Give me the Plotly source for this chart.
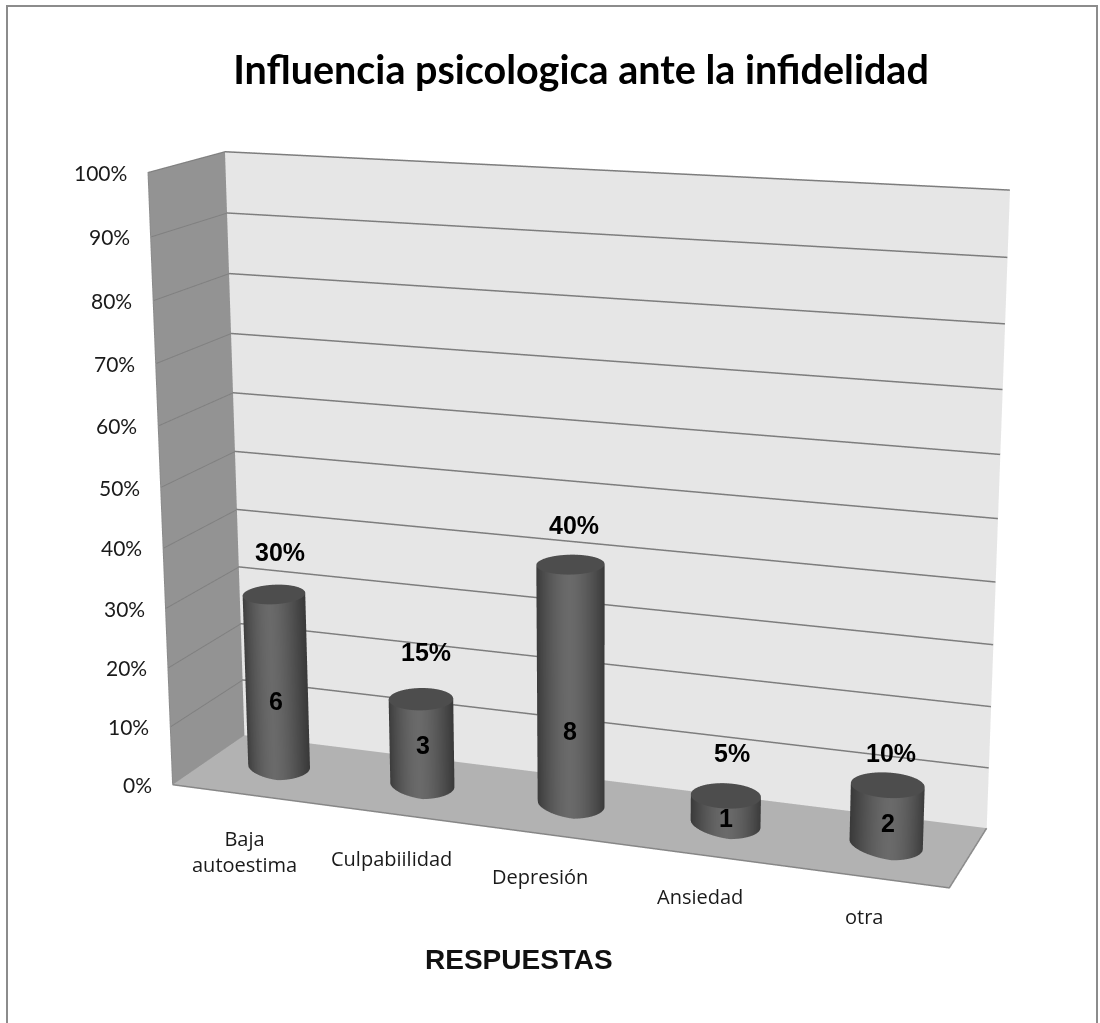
import numpy as np
import plotly.graph_objects as go

title = "Influencia psicologica ante la infidelidad"
axis_title = "RESPUESTAS"
categories = ["Baja<br>autoestima", "Culpabiilidad", "Depresión", "Ansiedad", "otra"]
percent = [30, 15, 40, 5, 10]
counts = [6, 3, 8, 1, 2]
ticks = [0, 10, 20, 30, 40, 50, 60, 70, 80, 90, 100]

W, H = 1100, 1023
EYE = (0.22639, -1.5389, 0.18739)
CENTER = (-0.01364, -0.02878, 0.00058)
UP_X = -0.0499
ASPECT_Y, ASPECT_Z = 0.10006, 0.7943
SHEAR = (0.05717, -0.04331, 0.00065, 0.00084, -0.02892, 0.05497)
RX, RV = 0.044, 0.2
LEVEL_W, LEVEL_U = 17, -0.09
NO_LIGHT = dict(ambient=1, diffuse=0, specular=0, roughness=1, fresnel=0)
CAT_SHIFT = [(1, -57), (1, -45), (-2, -43), (0, -42), (-1, -40)]
PCT_SHIFT = [(6, 42), (5, 47), (4, 40), (6, 43), (3, 32)]
COUNT_SHIFT = [(0, -19), (1, -2), (-1, -44), (0, -7), (1, -7)]


def world(u, v, pct):
    """category fraction, depth fraction, percent -> oblique chart box coordinates"""
    u, v, w = np.asarray(u, float), np.asarray(v, float), np.asarray(pct, float) / 100
    a, b, c, d, e, g = SHEAR
    return u + a * v + b * w, v + c * u + d * w, w + e * u + g * v


def cat_u(i):
    return (i + 0.5) / len(categories)


def quad(corners, color):
    u, v, p = zip(*corners)
    x, y, z = world(u, v, p)
    return go.Mesh3d(x=x, y=y, z=z, i=[0, 0], j=[1, 2], k=[2, 3], color=color,
                     lighting=NO_LIGHT, hoverinfo="skip", showlegend=False)


def line(corners, color, width):
    u, v, p = zip(*corners)
    x, y, z = world(u, v, p)
    return go.Scatter3d(x=x, y=y, z=z, mode="lines", line=dict(color=color, width=width),
                        hoverinfo="skip", showlegend=False)


fig = go.Figure()
fig.add_trace(quad([(0, 1, 0), (1, 1, 0), (1, 1, 100), (0, 1, 100)], "#e6e6e6"))
fig.add_trace(quad([(0, 0, 0), (0, 1, 0), (0, 1, 100), (0, 0, 100)], "#939393"))
fig.add_trace(quad([(0, 0, 0), (1, 0, 0), (1, 1, 0), (0, 1, 0)], "#b2b2b2"))

for t in ticks[1:]:
    fig.add_trace(line([(0, 0.995, t), (1, 0.995, t)], "#7d7d7d", 3))
    fig.add_trace(line([(0.001, 0, t), (0.001, 0.995, t)], "#808080", 2))
fig.add_trace(line([(0, 0, 0), (1, 0, 0), (1, 1, 0)], "#868686", 3))
fig.add_trace(line([(0, 0, 0), (0, 0, 100), (0, 1, 100)], "#8a8a8a", 2))

th = np.linspace(0, 2 * np.pi, 73)[:-1]
n = len(th)
for idx, p in enumerate(percent):
    cu = cat_u(idx)
    du = RX * np.cos(th)
    dv = RV * np.sin(th)
    uu = cu + du + LEVEL_U * dv
    vv = 0.5 + dv
    lift = LEVEL_W * du
    shade = 1 - np.abs(np.cos(th + 0.1)) ** 1.6
    x, y, z = world(np.r_[uu, uu], np.r_[vv, vv], np.r_[lift, p + lift])
    i, j, k = [], [], []
    for s in range(n):
        e = (s + 1) % n
        i += [s, s]; j += [e, e + n]; k += [e + n, s + n]
    fig.add_trace(go.Mesh3d(x=x, y=y, z=z, i=i, j=j, k=k, intensity=np.r_[shade, shade],
                            cmin=0, cmax=1, colorscale=[[0, "#3a3a3a"], [1, "#6a6a6a"]],
                            showscale=False, lighting=NO_LIGHT, hoverinfo="skip"))
    x, y, z = world(np.r_[cu, uu], np.r_[0.5, vv], np.r_[p, p + lift])
    fig.add_trace(go.Mesh3d(x=x, y=y, z=z, i=[0] * n, j=[s + 1 for s in range(n)],
                            k=[(s + 1) % n + 1 for s in range(n)], color="#4d4d4d",
                            lighting=NO_LIGHT, hoverinfo="skip"))

notes = []


def note(u, v, p, text, font, shift=(0, 0), **kw):
    x, y, z = world(u, v, p)
    notes.append(dict(x=float(x), y=float(y), z=float(z), text=text, showarrow=False, font=font,
                      xshift=shift[0], yshift=shift[1], **kw))


tick_font = dict(family="Lato", size=21, color="#1a1a1a")
cat_font = dict(family="Open Sans", size=20, color="#1a1a1a")
bold_font = dict(family="Liberation Sans", size=25, color="#000000", weight="bold")
for t in ticks:
    note(0, 0, t, f"{t}%", tick_font, (-19, 0), xanchor="right")
for idx, c in enumerate(categories):
    note(cat_u(idx), 0, 0, c, cat_font, CAT_SHIFT[idx])
for idx, (p, c) in enumerate(zip(percent, counts)):
    note(cat_u(idx), 0.5, p, f"{p}%", bold_font, PCT_SHIFT[idx])
    note(cat_u(idx), 0.5, p / 2, str(c), bold_font, COUNT_SHIFT[idx])

ax = dict(range=[-1, 2], visible=False, showspikes=False)
fig.update_layout(
    width=W, height=H, margin=dict(l=0, r=0, t=0, b=0), paper_bgcolor="white", showlegend=False,
    title=dict(text=f"<b>{title}</b>", x=581 / W, xanchor="center", y=1 - 70 / H, yanchor="middle",
               font=dict(family="Lato", size=39.5, color="#000000")),
    scene=dict(domain=dict(x=[0, 1], y=[0, 1]), xaxis=ax, yaxis=ax, zaxis=ax, dragmode="orbit",
               aspectmode="manual", aspectratio=dict(x=3, y=3 * ASPECT_Y, z=3 * ASPECT_Z),
               camera=dict(eye=dict(zip("xyz", EYE)), center=dict(zip("xyz", CENTER)),
                           up=dict(x=UP_X, y=0, z=1), projection=dict(type="perspective")),
               annotations=notes),
    shapes=[dict(type="rect", xref="paper", yref="paper", x0=7 / W, x1=1097 / W, y0=-0.02, y1=1 - 6 / H,
                 line=dict(color="#8c8c8c", width=2))],
    annotations=[dict(xref="paper", yref="paper", x=519 / W, y=1 - 959 / H, yanchor="middle",
                      text=f"<b>{axis_title}</b>", showarrow=False,
                      font=dict(family="Liberation Sans", size=28, color="#111111"))],
)
fig.write_html("out.html", config=dict(displayModeBar=False),
               post_script="document.body.style.margin='0';document.body.style.overflow='hidden';")
